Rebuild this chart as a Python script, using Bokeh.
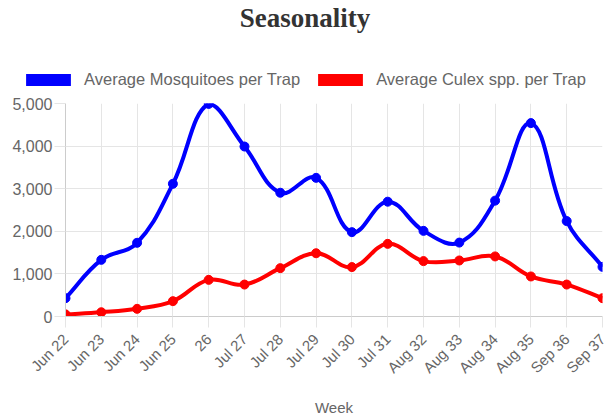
import math
from bokeh.plotting import figure
from bokeh.layouts import column, row
from bokeh.models import Range1d, FixedTicker, Legend, LegendItem, ColumnDataSource, NumeralTickFormatter
from bokeh.embed import file_html
from bokeh.resources import INLINE

weeks = ["Jun 22", "Jun 23", "Jun 24", "Jun 25", "26", "Jul 27", "Jul 28", "Jul 29",
         "Jul 30", "Jul 31", "Aug 32", "Aug 33", "Aug 34", "Aug 35", "Sep 36", "Sep 37"]
mosquitoes = [430, 1330, 1730, 3115, 4990, 3990, 2905, 3255, 1980, 2695, 2010, 1735, 2720, 4540, 2240, 1165]
culex = [50, 100, 180, 360, 860, 750, 1135, 1485, 1160, 1705, 1300, 1315, 1410, 940, 750, 430]
y_ticks = [0, 1000, 2000, 3000, 4000, 5000]

BLUE = "#0000ff"
RED = "#ff0000"
TXT = "#666666"
FONT = "Liberation Sans"

W = 609
TOP_H = 93
FW, FH = 537, 213
XMAX, YMAX = len(weeks) - 1, 5000
sx = FW / XMAX
sy = FH / YMAX

# ---- header figure: title + legend ----
h = figure(width=W, height=TOP_H, output_backend="svg", toolbar_location=None,
           x_range=Range1d(0, 1), y_range=Range1d(0, 1),
           x_axis_location=None, y_axis_location=None,
           min_border_left=0, min_border_right=0, min_border_top=0, min_border_bottom=0)
h.grid.visible = False
h.outline_line_color = None
h.title.text = "Seasonality"
h.title.align = "center"
h.title.offset = 10
h.title.standoff = 0
h.title.text_font = "Liberation Serif"
h.title.text_font_size = "27px"
h.title.text_font_style = "bold"
h.title.text_color = "#333333"

# legend swatches (placed outside the visible header range, only used by the legend)
r1 = h.quad(left=[5], right=[6], top=[6], bottom=[5], fill_color=BLUE, line_color=None)
r2 = h.quad(left=[5], right=[6], top=[6], bottom=[5], fill_color=RED, line_color=None)
legend = Legend(items=[LegendItem(label="Average Mosquitoes per Trap", renderers=[r1]),
                       LegendItem(label="Average Culex spp. per Trap", renderers=[r2])],
                orientation="horizontal", location=(20, 4),
                glyph_width=56, glyph_height=15, label_standoff=8, spacing=12,
                padding=0, margin=0, border_line_color=None, background_fill_alpha=0,
                label_text_font=FONT, label_text_font_size="16.5px", label_text_color=TXT)
h.add_layout(legend, "center")

# ---- main chart ----
p = figure(width=W, height=419 - TOP_H, output_backend="svg", toolbar_location=None,
           x_range=Range1d(0, XMAX), y_range=Range1d(0, YMAX),
           min_border_left=65, min_border_right=7, min_border_top=10, min_border_bottom=103,
           background_fill_color="white", border_fill_color="white")
p.outline_line_color = None


def spline(xs, ys, t=0.4):
    n = len(xs)
    pts = [(xs[i] * sx, ys[i] * sy) for i in range(n)]
    prev_c, next_c = [], []
    for i in range(n):
        a = pts[i - 1] if i > 0 else pts[i]
        b = pts[i]
        c = pts[i + 1] if i < n - 1 else pts[i]
        d01 = math.hypot(b[0] - a[0], b[1] - a[1])
        d12 = math.hypot(c[0] - b[0], c[1] - b[1])
        tot = d01 + d12
        s01 = d01 / tot if tot else 0
        s12 = d12 / tot if tot else 0
        fa, fb = t * s01, t * s12
        pc = (b[0] - fa * (c[0] - a[0]), b[1] - fa * (c[1] - a[1]))
        nc = (b[0] + fb * (c[0] - a[0]), b[1] + fb * (c[1] - a[1]))
        clampx = lambda v: min(max(v, 0), FW)
        clampy = lambda v: min(max(v, 0), FH)
        prev_c.append((clampx(pc[0]) / sx, clampy(pc[1]) / sy))
        next_c.append((clampx(nc[0]) / sx, clampy(nc[1]) / sy))
    d = dict(x0=[], y0=[], x1=[], y1=[], cx0=[], cy0=[], cx1=[], cy1=[])
    for i in range(n - 1):
        d["x0"].append(xs[i]); d["y0"].append(ys[i])
        d["x1"].append(xs[i + 1]); d["y1"].append(ys[i + 1])
        d["cx0"].append(next_c[i][0]); d["cy0"].append(next_c[i][1])
        d["cx1"].append(prev_c[i + 1][0]); d["cy1"].append(prev_c[i + 1][1])
    return d


xs = list(range(len(weeks)))
for vals, col in ((mosquitoes, BLUE), (culex, RED)):
    p.bezier(x0="x0", y0="y0", x1="x1", y1="y1", cx0="cx0", cy0="cy0", cx1="cx1", cy1="cy1",
             source=ColumnDataSource(spline(xs, vals)), line_color=col, line_width=4)
    p.scatter(xs, vals, size=9, fill_color=col, line_color=col)

p.xaxis.ticker = FixedTicker(ticks=xs)
p.xaxis.major_label_overrides = {i: w for i, w in enumerate(weeks)}
p.xaxis.major_label_orientation = math.pi / 4
p.xaxis.axis_label = "Week"
p.xaxis.axis_label_standoff = 14
p.xaxis.axis_label_text_font_style = "normal"
p.xaxis.axis_label_text_font = FONT
p.xaxis.axis_label_text_font_size = "15px"
p.xaxis.axis_label_text_color = TXT
p.xaxis.major_label_text_font_size = "15px"
p.xaxis.major_label_standoff = 9

p.yaxis.ticker = FixedTicker(ticks=y_ticks)
p.yaxis.formatter = NumeralTickFormatter(format="0,0")
p.yaxis.major_label_text_font_size = "16px"
p.yaxis.major_label_standoff = 2

for ax in (p.xaxis, p.yaxis):
    ax.major_label_text_font = FONT
    ax.major_label_text_color = TXT
    ax.axis_line_color = "#cccccc"
    ax.major_tick_line_color = "#e5e5e5"
    ax.major_tick_in = 0
    ax.major_tick_out = 11
    ax.minor_tick_line_color = None

p.xgrid.ticker = FixedTicker(ticks=xs)
p.ygrid.ticker = FixedTicker(ticks=y_ticks)
p.xgrid.grid_line_color = "#e5e5e5"
p.ygrid.grid_line_color = "#e5e5e5"

layout = column(row(h), p)
open("out.html", "w").write(file_html(layout, INLINE))
